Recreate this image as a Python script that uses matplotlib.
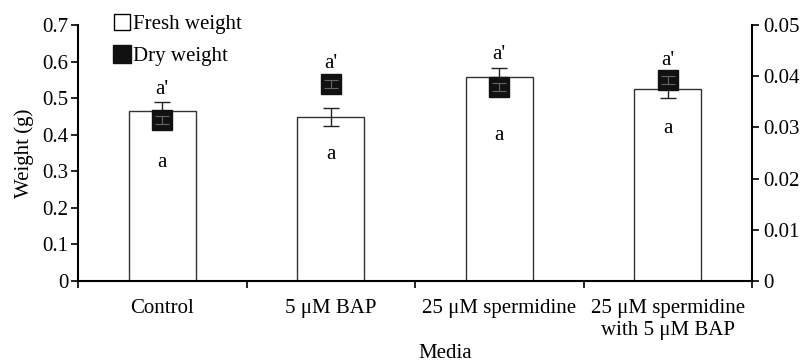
import matplotlib.pyplot as plt
from matplotlib.lines import Line2D
import numpy as np

plt.rcParams['font.family'] = ['Liberation Serif', 'DejaVu Serif']

media = ['Control', '5 \u03bcM BAP', '25 \u03bcM spermidine', '25 \u03bcM spermidine\nwith 5 \u03bcM BAP']
fresh = [0.465, 0.449, 0.558, 0.524]
fresh_err = [0.025, 0.025, 0.025, 0.024]
dry = [0.0315, 0.0385, 0.0379, 0.0393]
dry_err = [0.0008, 0.0008, 0.0008, 0.0008]
fresh_letters = ['a', 'a', 'a', 'a']
dry_letters = ["a'", "a'", "a'", "a'"]
# label heights in left-axis units
fresh_letter_y = [0.323, 0.345, 0.399, 0.418]
dry_letter_y = [0.525, 0.596, 0.618, 0.604]

fs = 15
fig = plt.figure(figsize=(8.02, 3.64), dpi=100)
ax = fig.add_axes([78/802, 1-281/364, (752-78)/802, 256/364])
x = np.arange(len(media))

ax.bar(x, fresh, width=0.4, color='white', edgecolor='#333333', linewidth=1.0, zorder=2)
ax.errorbar(x, fresh, yerr=fresh_err, fmt='none', ecolor='#222222', elinewidth=1.0, capsize=6, capthick=1.0, zorder=3)

ax.set_xlim(-0.5, len(media)-0.5)
ax.set_ylim(0, 0.7)
ax.set_yticks(np.arange(0, 0.71, 0.1))
ax.set_yticklabels(['0'] + ['%.1f' % v for v in np.arange(0.1, 0.71, 0.1)])
ax.set_xticks(x)
ax.set_xticklabels(media, linespacing=1.2)
ax.set_xticks(np.arange(-0.5, len(media), 1), minor=True)
ax.tick_params(axis='x', which='major', length=0, pad=13, labelsize=fs)
ax.tick_params(axis='x', which='minor', length=5, width=1.2, direction='out')
ax.tick_params(axis='y', length=5, width=1.2, direction='out', labelsize=fs, pad=2)
ax.spines['top'].set_visible(False)
ax.spines['right'].set_visible(False)
for s in ['left', 'bottom']:
    ax.spines[s].set_linewidth(1.5)
ax.set_ylabel('Weight (g)', fontsize=fs, labelpad=6)

for i in range(len(media)):
    ax.text(x[i], fresh_letter_y[i], fresh_letters[i], ha='center', va='center', fontsize=fs, zorder=4)
    ax.text(x[i], dry_letter_y[i], dry_letters[i], ha='center', va='center', fontsize=fs, zorder=4)

ax2 = ax.twinx()
ax2.set_ylim(0, 0.05)
ax2.set_yticks(np.arange(0, 0.051, 0.01))
ax2.set_yticklabels(['0'] + ['%.2f' % v for v in np.arange(0.01, 0.051, 0.01)])
ax2.tick_params(axis='y', length=5, width=1.2, direction='out', labelsize=fs, pad=3)
for s in ['top', 'left', 'bottom']:
    ax2.spines[s].set_visible(False)
ax2.spines['right'].set_linewidth(1.5)
ax2.plot(x, dry, linestyle='none', marker='s', markersize=14, color='#111111', zorder=3)
ax2.errorbar(x, dry, yerr=dry_err, fmt='none', ecolor='#666666', elinewidth=0.8, capsize=5, capthick=0.8, zorder=4)

handles = [Line2D([], [], linestyle='none', marker='s', markersize=11, markerfacecolor='white', markeredgecolor='black', markeredgewidth=1.0),
           Line2D([], [], linestyle='none', marker='s', markersize=13, color='#111111')]
ax.legend(handles, ['Fresh weight', 'Dry weight'], loc='upper left', bbox_to_anchor=(0.025, 1.115),
          frameon=False, fontsize=fs, handlelength=0.8, handletextpad=0.15, labelspacing=0.6)

fig.text(445/802, 1-353/364, 'Media', ha='center', va='center', fontsize=fs)

fig.savefig('out.png', dpi=100)
